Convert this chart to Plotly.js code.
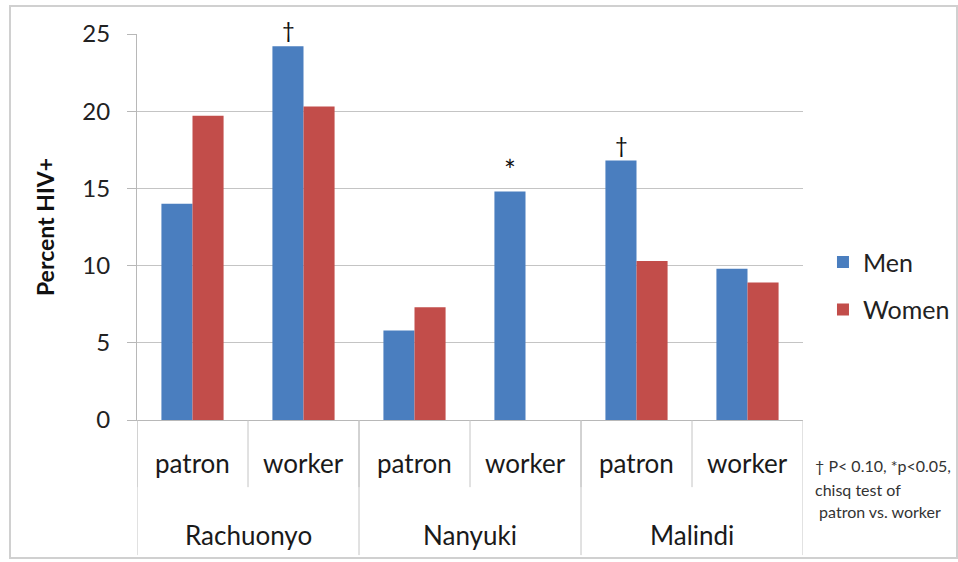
<!DOCTYPE html>
<html>
<head>
<meta charset="utf-8">
<script src="https://cdn.plot.ly/plotly-3.0.1.min.js"></script>
<style>
  html, body { margin: 0; padding: 0; background: #ffffff; }
  #frame { position: absolute; left: 9px; top: 5px; width: 945px; height: 550px; border: 2px solid #d0d0d0; }
  #chart { position: absolute; left: 0; top: 0; width: 958px; height: 562px; }
</style>
</head>
<body>
<div id="frame"></div>
<div id="chart"></div>
<script>
const locations = ["Rachuonyo", "Rachuonyo", "Nanyuki", "Nanyuki", "Malindi", "Malindi"];
const roles = ["patron", "worker", "patron", "worker", "patron", "worker"];
const men = [14.0, 24.2, 5.8, 14.8, 16.8, 9.8];
const women = [19.7, 20.3, 7.3, null, 10.3, 8.9];
const sigMarks = ["", "\u2020", "", "*", "\u2020", ""];
const footnote = ["\u2020 P< 0.10, *p<0.05,", "chisq test of", " patron vs. worker"];

const FONT = "Lato, 'Open Sans', sans-serif";
const LINE = "#c4c4c4";
const xcats = locations.map((l, i) => l + " " + roles[i]);

const traces = [
  { type: "bar", name: "Men", x: xcats, y: men, legendgroup: "m",
    marker: { color: "#4a7ebf" }, hoverinfo: "skip" },
  { type: "bar", name: "Women", x: xcats, y: women, legendgroup: "w",
    marker: { color: "#c24d4a" }, hoverinfo: "skip" }
];

const annotations = [];
const shapes = [];

// significance markers above the Men bars
men.forEach((v, i) => {
  if (sigMarks[i]) {
    const star = sigMarks[i] === "*";
    annotations.push({
      x: i, y: v, xref: "x", yref: "y", text: sigMarks[i], showarrow: false,
      xshift: -15.5, yanchor: "bottom", yshift: star ? 2 : 1,
      font: { family: FONT, size: star ? 28 : 22, color: "#111" }
    });
  }
});

// inner category labels (roles) and separators between them
roles.forEach((r, i) => {
  annotations.push({
    x: i, y: -0.111, xref: "x", yref: "paper", text: r, showarrow: false,
    yanchor: "middle", font: { family: FONT, size: 26, color: "#1a1a1a" }
  });
  shapes.push({ type: "line", xref: "x", yref: "paper", x0: i - 0.5, x1: i - 0.5,
    y0: 0, y1: -0.174, line: { color: LINE, width: 1 } });
});
shapes.push({ type: "line", xref: "x", yref: "paper", x0: roles.length - 0.5, x1: roles.length - 0.5,
  y0: 0, y1: -0.35, line: { color: LINE, width: 1 } });

// outer category labels (locations) and group dividers
const groups = [];
locations.forEach((l, i) => {
  if (!groups.length || groups[groups.length - 1].name !== l) groups.push({ name: l, start: i, end: i });
  else groups[groups.length - 1].end = i;
});
groups.forEach(g => {
  annotations.push({
    x: (g.start + g.end) / 2, y: -0.298, xref: "x", yref: "paper", text: g.name, showarrow: false,
    yanchor: "middle", font: { family: FONT, size: 26, color: "#1a1a1a" }
  });
  shapes.push({ type: "line", xref: "x", yref: "paper", x0: g.start - 0.5, x1: g.start - 0.5,
    y0: 0, y1: -0.35, line: { color: LINE, width: 1 } });
});

// footnote
const footY = [-0.117, -0.179, -0.238];
footnote.forEach((t, k) => {
  annotations.push({
    x: 1.015, y: footY[k], xref: "paper", yref: "paper", xanchor: "left", yanchor: "middle",
    text: t, align: "left", showarrow: false,
    font: { family: FONT, size: 16, color: "#333" }
  });
});

const layout = {
  width: 958, height: 562,
  margin: { l: 137, r: 155, t: 34, b: 142, autoexpand: false },
  paper_bgcolor: "rgba(0,0,0,0)", plot_bgcolor: "#ffffff",
  font: { family: FONT, size: 24, color: "#222" },
  barmode: "group", bargap: 0.44, bargroupgap: 0,
  showlegend: true,
  legend: { x: 1.03, y: 0.348, xanchor: "left", yanchor: "middle",
            font: { family: FONT, size: 25, color: "#222" },
            tracegroupgap: 12, bgcolor: "rgba(0,0,0,0)" },
  xaxis: {
    type: "category", showline: true, linecolor: "#b8b8b8", linewidth: 1,
    showticklabels: false, ticks: "", showgrid: false, range: [-0.5, 5.5]
  },
  yaxis: {
    range: [0, 25], dtick: 5, tick0: 0, showgrid: true, gridcolor: LINE,
    showline: true, linecolor: "#b8b8b8", ticks: "outside", ticklen: 9,
    tickcolor: "#b8b8b8", zeroline: false, ticklabelstandoff: 12,
    tickfont: { family: FONT, size: 24, color: "#222" },
    title: { text: "<b>Percent HIV+</b>", font: { family: FONT, size: 23, color: "#111" }, standoff: 21 }
  },
  annotations: annotations,
  shapes: shapes
};

Plotly.newPlot("chart", traces, layout, { displayModeBar: false, staticPlot: true });
</script>
</body>
</html>
